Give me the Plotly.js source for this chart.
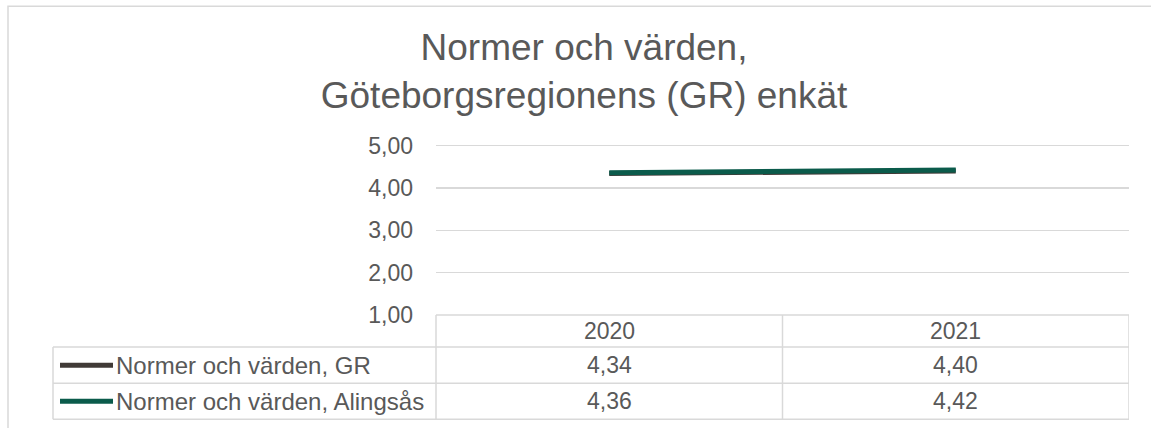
<!DOCTYPE html>
<html>
<head>
<meta charset="utf-8">
<script src="https://cdn.plot.ly/plotly-3.0.1.min.js"></script>
<style>html,body{margin:0;padding:0;background:#fff;}#chart{width:1151px;height:428px;}</style>
</head>
<body>
<div id="chart"></div>
<script>
const categories = ["2020", "2021"];
const seriesNames = ["Normer och värden, GR", "Normer och värden, Alingsås"];
const gr = [4.34, 4.40];
const alingsas = [4.36, 4.42];
const yTicks = [1, 2, 3, 4, 5];
const yTickLabels = ["1,00", "2,00", "3,00", "4,00", "5,00"];
const titleText = "Normer och värden,<br>Göteborgsregionens (GR) enkät";

const colors = ["#403A37", "#0B5B4B"];
const seriesVals = [gr, alingsas];
const textColor = "#595959";
const gridColor = "#D9D9D9";
const font = "Liberation Sans, Arial, sans-serif";

// pixel helpers (plot area: x 436..1129, y 146(=5.00)..315(=1.00))
const L = 436, R = 1129, Y5 = 146, B = 315;
const yMax = 5.06;
const T = B - (B - Y5) * (yMax - 1) / 4;
const px = p => (p - L) / (R - L);
const py = p => (B - p) / (B - T);

const traces = seriesVals.map((vals, i) => ({
  type: "scatter", mode: "lines", x: categories, y: vals, name: seriesNames[i],
  line: {color: colors[i], width: 5, shape: "linear"}, hoverinfo: "skip", showlegend: false
}));

const rowTops = [315, 347, 383, 419];
const shapes = [];
const lineStyle = {color: gridColor, width: 1.5};
// outer chart border
shapes.push({type: "rect", xref: "paper", yref: "paper", x0: px(8), x1: 2, y0: -3, y1: py(7), line: {color: gridColor, width: 1.5}, layer: "below"});
// table horizontal lines
shapes.push({type: "line", xref: "paper", yref: "paper", x0: 0, x1: 1, y0: py(rowTops[0]), y1: py(rowTops[0]), line: lineStyle});
for (let r = 1; r < rowTops.length; r++) {
  shapes.push({type: "line", xref: "paper", yref: "paper", x0: px(53), x1: 1, y0: py(rowTops[r]), y1: py(rowTops[r]), line: lineStyle});
}
// verticals
shapes.push({type: "line", xref: "paper", yref: "paper", x0: px(53), x1: px(53), y0: py(rowTops[1]), y1: py(rowTops[3]), line: lineStyle});
shapes.push({type: "line", xref: "paper", yref: "paper", x0: 0, x1: 0, y0: py(rowTops[0]), y1: py(rowTops[3]), line: lineStyle});
categories.forEach((c, i) => {
  shapes.push({type: "line", xref: "x", yref: "paper", x0: i + 0.5, x1: i + 0.5, y0: py(rowTops[0]), y1: py(rowTops[3]), line: lineStyle});
});

const tableFont = {family: font, size: 23, color: textColor};
const labelFont = {family: font, size: 24, color: textColor};
const annotations = [];
categories.forEach((c, i) => {
  annotations.push({xref: "x", yref: "paper", x: i, y: py((rowTops[0] + rowTops[1]) / 2), text: c, showarrow: false,
    font: tableFont, xanchor: "center", yanchor: "middle"});
});
seriesVals.forEach((vals, s) => {
  const yc = py((rowTops[s + 1] + rowTops[s + 2]) / 2);
  shapes.push({type: "line", xref: "paper", yref: "paper", x0: px(60), x1: px(113), y0: yc, y1: yc, line: {color: colors[s], width: 5}});
  annotations.push({xref: "paper", yref: "paper", x: px(114), y: yc, text: seriesNames[s], showarrow: false,
    font: labelFont, xanchor: "left", yanchor: "middle"});
  vals.forEach((v, i) => {
    annotations.push({xref: "x", yref: "paper", x: i, y: yc, text: v.toFixed(2).replace(".", ","), showarrow: false,
      font: tableFont, xanchor: "center", yanchor: "middle"});
  });
});

const layout = {
  width: 1151, height: 428,
  margin: {l: L, r: 1151 - R, t: T, b: 428 - B, pad: 0},
  paper_bgcolor: "#fff", plot_bgcolor: "#fff",
  title: {text: titleText, x: 584 / 1151, xanchor: "center", y: 1 - 60 / 428, yanchor: "top",
    font: {family: font, size: 37, color: textColor}},
  xaxis: {type: "category", range: [-0.5, categories.length - 0.5], showticklabels: false, showgrid: false, zeroline: false, showline: false, fixedrange: true},
  yaxis: {range: [1, yMax], tickvals: yTicks, ticktext: yTickLabels, showgrid: true, gridcolor: gridColor, gridwidth: 1.5,
    zeroline: false, showline: false, ticks: "", ticklabelstandoff: 22,
    tickfont: {family: font, size: 23, color: textColor}, fixedrange: true},
  shapes: shapes, annotations: annotations, showlegend: false
};

Plotly.newPlot("chart", traces, layout, {displayModeBar: false, staticPlot: true});
</script>
</body>
</html>
